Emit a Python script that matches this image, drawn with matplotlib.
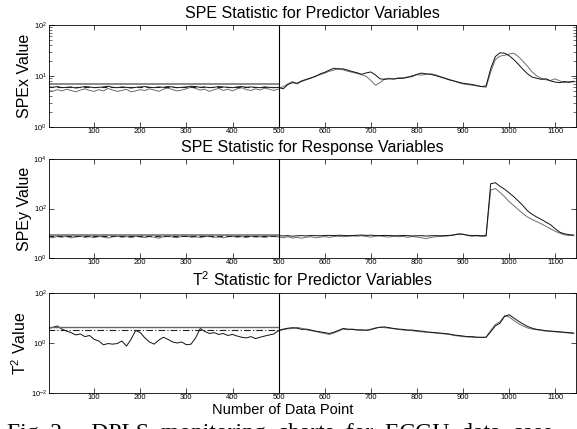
import numpy as np
from matplotlib import pyplot as plt
from matplotlib import font_manager
from matplotlib.ticker import LogLocator, NullLocator

# sample index of every stored value (one value every 10 samples)
sample = np.arange(0, 1150, 10)
fault_start = 500

# SPE of predictor variables, two models
spex_a = [6.1, 6.0, 6.2, 5.9, 6.0, 6.1, 5.8, 6.0, 6.2, 6.1,
          5.9, 6.0, 6.1, 6.3, 6.0, 5.9, 6.1, 6.0, 5.8, 6.0,
          6.1, 6.2, 6.0, 5.9, 6.1, 6.0, 6.2, 6.1, 5.9, 6.0,
          6.1, 6.3, 6.2, 6.0, 6.1, 5.9, 6.0, 6.2, 6.1, 6.0,
          5.9, 6.1, 6.2, 6.0, 6.1, 6.0, 5.9, 6.1, 6.0, 5.9,
          6.0, 5.6, 6.8, 7.4, 7.2, 8.0, 8.6, 9.2, 9.8, 11.0,
          11.8, 13.0, 14.2, 13.6, 13.8, 13.0, 12.2, 11.6, 10.8, 11.5,
          12.0, 10.5, 8.8, 8.6, 8.8, 8.7, 9.0, 9.0, 9.4, 9.8,
          10.8, 11.4, 11.0, 10.8, 10.2, 9.6, 9.0, 8.4, 8.0, 7.6,
          7.2, 7.0, 6.8, 6.5, 6.2, 6.4, 14.0, 24.0, 28.5, 28.0,
          25.0, 21.0, 17.0, 13.5, 11.0, 9.5, 9.0, 8.6, 8.8, 8.0,
          7.6, 7.4, 7.8, 7.5, 7.9]
spex_b = [5.3, 5.0, 5.4, 5.1, 5.5, 5.2, 4.9, 5.3, 5.6, 5.2,
          5.0, 5.4, 5.1, 5.7, 5.3, 5.0, 5.2, 5.5, 4.9, 5.1,
          5.4, 5.2, 5.6, 5.3, 5.0, 5.5, 5.8, 5.4, 5.1, 5.3,
          5.6, 6.1, 5.7, 5.3, 5.5, 5.0, 5.4, 5.7, 5.2, 5.5,
          5.1, 5.6, 5.9, 5.4, 5.2, 5.6, 5.3, 5.8, 5.5, 5.2,
          5.6, 6.2, 7.0, 7.8, 7.0, 7.8, 8.4, 9.0, 10.0, 10.6,
          11.4, 12.4, 13.0, 14.2, 13.2, 12.4, 11.8, 11.2, 10.6, 9.8,
          8.2, 6.6, 7.4, 8.8, 9.0, 8.8, 9.2, 9.2, 9.6, 10.2,
          10.6, 10.4, 10.8, 11.0, 10.6, 9.8, 9.2, 8.6, 8.0, 7.4,
          7.0, 6.8, 6.6, 6.4, 6.2, 6.0, 12.0, 21.0, 24.5, 25.5,
          27.0, 28.0, 24.0, 19.5, 15.5, 12.0, 10.0, 9.0, 8.4, 8.2,
          8.8, 8.0, 7.4, 7.8, 7.6]

# SPE of response variables
spey_a = [8.0, 7.8, 8.2, 7.9, 8.1, 8.0, 7.7, 8.0, 8.2, 7.9,
          8.0, 8.1, 7.8, 8.0, 8.2, 7.9, 8.0, 8.1, 7.8, 8.0,
          8.2, 7.9, 8.0, 8.1, 7.8, 8.0, 8.2, 8.0, 7.9, 8.1,
          8.0, 7.8, 8.2, 8.1, 7.9, 8.0, 8.1, 7.9, 8.0, 8.2,
          7.9, 8.0, 8.1, 7.8, 8.0, 8.2, 7.9, 8.0, 8.1, 8.0,
          8.0, 7.8, 8.0, 7.6, 7.9, 8.0, 7.8, 8.1, 8.0, 7.9,
          8.1, 8.2, 8.0, 8.3, 8.2, 8.0, 8.1, 8.3, 8.5, 8.2,
          8.4, 8.1, 8.0, 8.2, 8.1, 7.9, 8.0, 8.1, 8.0, 7.8,
          7.9, 8.0, 7.7, 7.9, 8.0, 7.9, 8.0, 8.2, 8.6, 9.2,
          9.0, 8.4, 8.0, 8.2, 7.9, 8.1, 1000, 1100, 800, 600,
          430, 300, 200, 130, 80, 58, 45, 36, 28, 22,
          15, 11, 9.5, 8.8, 8.4]
spey_b = [7.2, 6.6, 7.4, 6.9, 7.5, 6.5, 7.1, 7.6, 6.8, 7.3,
          6.6, 7.4, 7.0, 6.4, 7.2, 7.6, 6.9, 7.3, 6.6, 7.5,
          7.1, 6.7, 7.4, 6.9, 6.3, 7.2, 7.5, 7.0, 6.6, 7.4,
          7.6, 6.9, 7.2, 6.7, 7.3, 7.5, 6.8, 7.1, 6.5, 7.2,
          7.4, 6.9, 7.3, 6.6, 7.5, 7.0, 7.2, 6.8, 7.4, 7.6,
          7.0, 6.6, 7.2, 6.4, 6.8, 6.3, 6.9, 7.2, 6.6, 7.0,
          7.3, 6.8, 7.4, 7.6, 7.2, 7.5, 7.8, 7.6, 7.9, 7.4,
          7.0, 7.6, 7.8, 7.3, 7.0, 7.6, 7.2, 7.5, 6.8, 7.4,
          7.0, 6.6, 6.0, 6.8, 7.2, 7.4, 7.6, 7.9, 8.4, 9.6,
          9.2, 8.0, 7.6, 7.8, 7.4, 7.6, 550, 640, 450, 300,
          190, 130, 90, 62, 45, 36, 29, 24, 19, 15,
          12, 10, 8.6, 8.2, 8.0]

# T2 of predictor variables (second model only differs after the fault)
t2_a = [3.8, 4.2, 4.8, 3.6, 3.0, 2.6, 2.1, 2.3, 1.8, 2.0,
        1.4, 1.2, 0.85, 0.95, 0.9, 0.95, 1.2, 0.75, 1.4, 3.2,
        2.6, 1.6, 1.1, 0.9, 1.3, 1.7, 1.4, 1.1, 1.0, 1.1,
        0.85, 0.9, 1.6, 3.8, 2.9, 2.4, 2.6, 2.2, 2.4, 2.0,
        2.2, 1.9, 1.7, 1.6, 1.8, 1.5, 1.7, 1.9, 2.1, 2.3,
        3.2, 3.6, 3.9, 4.1, 3.9, 3.5, 3.6, 3.3, 3.0, 2.8,
        2.6, 2.4, 2.7, 3.2, 3.8, 3.6, 3.5, 3.3, 3.4, 3.2,
        3.4, 3.9, 4.3, 4.4, 4.1, 3.8, 3.6, 3.5, 3.3, 3.3,
        3.1, 3.0, 2.8, 2.7, 2.6, 2.5, 2.4, 2.3, 2.1, 2.0,
        1.9, 1.8, 1.8, 1.7, 1.7, 1.7, 2.8, 4.8, 6.2, 11.5,
        13.5, 10.0, 7.5, 5.8, 4.6, 3.9, 3.5, 3.3, 3.1, 3.0,
        2.9, 2.8, 2.7, 2.6, 2.5]
t2_b_post = [3.0, 3.4, 3.7, 3.8, 4.2, 3.9, 3.4, 3.1, 2.9, 2.6,
             2.4, 2.2, 2.5, 3.0, 3.6, 3.4, 3.6, 3.4, 3.1, 3.3,
             3.6, 4.0, 4.2, 4.1, 3.9, 3.7, 3.5, 3.3, 3.2, 3.1,
             2.9, 2.8, 2.7, 2.6, 2.5, 2.4, 2.3, 2.2, 2.0, 1.9,
             1.8, 1.75, 1.7, 1.7, 1.65, 1.7, 3.2, 5.5, 7.0, 12.5,
             11.0, 8.0, 6.0, 4.8, 4.0, 3.6, 3.4, 3.2, 3.0, 2.9,
             2.8, 2.7, 2.6, 2.5, 2.4]

# control limits (solid, dashed) for each chart
spex_limits = [6.9, 6.2]
spey_limits = [8.4, 8.0]
t2_limits = [4.4, 3.3]

titles = ["SPE Statistic for Predictor Variables",
          "SPE Statistic for Response Variables",
          "T$^2$ Statistic for Predictor Variables"]
ylabels = ["SPEx Value", "SPEy Value", "T$^2$ Value"]
ylims = [(1, 100), (1, 1e4), (1e-2, 100)]
yticks = [[1, 10, 100], [1, 100, 1e4], [1e-2, 1, 100]]
yticklabels = [["$10^{0}$", "$10^{1}$", "$10^{2}$"],
               ["$10^{0}$", "$10^{2}$", "$10^{4}$"],
               ["$10^{-2}$", "$10^{0}$", "$10^{2}$"]]
xticks = [100, 200, 300, 400, 500, 600, 700, 800, 900, 1000, 1100]
caption = "Fig. 2     DPLS  monitoring  charts  for  ECGU  data  case"

plt.rcParams['font.family'] = ['Liberation Sans', 'DejaVu Sans']
plt.rcParams['mathtext.fontset'] = 'custom'
plt.rcParams['mathtext.rm'] = 'Liberation Sans'
plt.rcParams['mathtext.it'] = 'Liberation Sans:italic'
plt.rcParams['mathtext.default'] = 'regular'

names = {f.name for f in font_manager.fontManager.ttflist}
tick_font = 'Liberation Sans Narrow' if 'Liberation Sans Narrow' in names else 'Liberation Sans'

W, H = 577, 429
fig = plt.figure(figsize=(W / 100, H / 100), dpi=100)

# axes boxes in pixels: (top, bottom)
boxes = [(25, 127), (159, 258), (293, 393)]
left_px, right_px = 49, 576

axes = []
for top, bottom in boxes:
    ax = fig.add_axes([left_px / W, 1 - bottom / H,
                       (right_px - left_px) / W, (bottom - top) / H])
    axes.append(ax)

x_pre = sample[sample < fault_start]
n_pre = len(x_pre)
x_post = sample[n_pre:]

series = [(spex_a, spex_b, spex_limits), (spey_a, spey_b, spey_limits)]
for ax, (a, b, lims) in zip(axes[:2], series):
    ax.plot(sample, b, color='#6e6e6e', lw=0.7)
    ax.plot(sample, a, color='#111111', lw=0.7)
    ax.hlines(lims[0], 0, fault_start, color='#8a8a8a', lw=1.4)
    ax.hlines(lims[1], 0, fault_start, color='#222222', lw=0.8, linestyles=(0, (5, 3)))

ax = axes[2]
ax.plot(x_post, t2_b_post, color='#6e6e6e', lw=0.7)
ax.plot(sample, t2_a, color='#111111', lw=0.7)
ax.hlines(t2_limits[0], 0, fault_start, color='#666666', lw=1.0)
ax.hlines(t2_limits[1], 0, fault_start, color='#222222', lw=0.8, linestyles=(0, (6, 2, 1, 2)))

for i, ax in enumerate(axes):
    ax.axvline(fault_start, color='k', lw=0.8)
    ax.set_yscale('log')
    ax.set_xlim(2, 1145)
    ax.set_ylim(*ylims[i])
    ax.set_xticks(xticks)
    ax.set_xticklabels([str(v) for v in xticks], fontsize=5.5, family=tick_font)
    ax.set_yticks(yticks[i])
    ax.set_yticklabels(yticklabels[i], fontsize=5.5)
    if i == 0:
        ax.yaxis.set_minor_locator(LogLocator(base=10, subs=np.arange(2, 10)))
    else:
        ax.yaxis.set_minor_locator(NullLocator())
    ax.yaxis.set_minor_formatter(plt.NullFormatter())
    ax.tick_params(which='major', direction='in', top=True, right=True,
                   length=3.5, width=0.5, pad=1.5)
    ax.tick_params(which='minor', direction='in', right=True, length=2, width=0.4)
    ax.tick_params(axis='x', pad=1)
    for s in ax.spines.values():
        s.set_linewidth(0.6)
    ax.set_title(titles[i], fontsize=11.5, pad=5)
    ax.set_ylabel(ylabels[i], fontsize=11.5, labelpad=1)

fig.text(283 / W, 1 - 410 / H, "Number of Data Point", fontsize=10.5,
         ha='center', va='center')
# caption line of the paper, only its top is inside the image
fig.text(7 / W, 1 - 423 / H, caption,
         fontsize=17, family='Liberation Serif', ha='left', va='top')

fig.savefig('out.png', dpi=100)
